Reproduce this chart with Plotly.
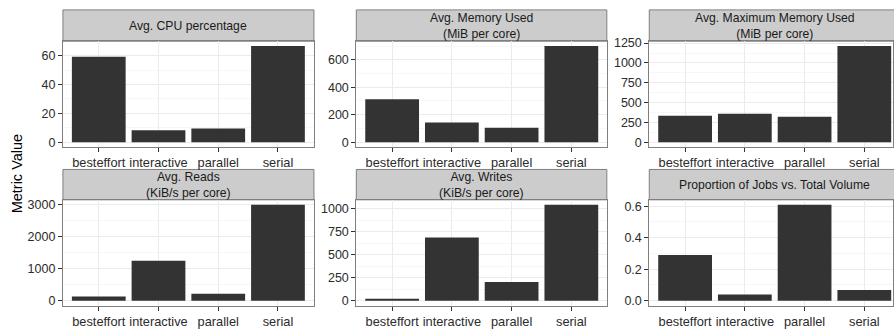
import plotly.graph_objects as go

categories = ["besteffort", "interactive", "parallel", "serial"]

cpu_pct = [59.3, 8.2, 9.5, 66.8]
mem_used = [312, 143, 105, 700]
max_mem_used = [334, 359, 322, 1213]
reads = [130, 1250, 220, 3010]
writes = [12, 685, 203, 1043]
job_prop = [0.290, 0.039, 0.610, 0.068]

titles = [
    "Avg. CPU percentage",
    "Avg. Memory Used\n(MiB per core)",
    "Avg. Maximum Memory Used\n(MiB per core)",
    "Avg. Reads\n(KiB/s per core)",
    "Avg. Writes\n(KiB/s per core)",
    "Proportion of Jobs vs. Total Volume",
]
series = [cpu_pct, mem_used, max_mem_used, reads, writes, job_prop]
y_dticks = [20, 200, 250, 1000, 250, 0.2]
y_formats = ["d", "d", "d", "d", "d", ".1f"]
y_title = "Metric Value"

W, H = 894, 333
FONT = "Liberation Sans, Arial, Helvetica, sans-serif"
BAR = "#333333"
BORDER = "#7f7f7f"
STRIP = "#cccccc"
GRID = "#ebebeb"
MINOR = "#f7f7f7"
TEXT = "#2b2b2b"

# pixel layout (left, right) per column; (top, bottom) per row
cols_px = [(63, 314.3), (356.7, 607.5), (650, 894)]
rows_px = [(37, 145), (199, 307)]
strip_px = [(5, 37), (168, 199)]
px_per_cat = 59.8

def fx(p):
    return p / W

def fy(p):
    return 1 - p / H

fig = go.Figure()
shapes = []
annotations = []

for i, (title, vals) in enumerate(zip(titles, series)):
    r, c = divmod(i, 3)
    n = i + 1
    xa = "x" if n == 1 else f"x{n}"
    ya = "y" if n == 1 else f"y{n}"
    fig.add_trace(go.Bar(
        x=categories, y=vals, xaxis=xa, yaxis=ya,
        marker=dict(color=BAR, line=dict(width=0)),
        width=0.9, showlegend=False, hoverinfo="x+y",
    ))
    l, rgt = cols_px[c]
    t, b = rows_px[r]
    xr = [-0.6, -0.6 + (rgt - l) / px_per_cat]
    vmax = max(vals)
    yr = [-0.05 * vmax, 1.05 * vmax]
    xkey = "xaxis" if n == 1 else f"xaxis{n}"
    ykey = "yaxis" if n == 1 else f"yaxis{n}"
    fig.layout[xkey] = dict(
        domain=[fx(l), fx(rgt)], anchor=ya, type="category",
        categoryorder="array", categoryarray=categories,
        range=xr, showgrid=True, gridcolor=GRID, gridwidth=1,
        showline=True, linecolor=BORDER, linewidth=1, mirror=True,
        ticks="outside", ticklen=4, tickcolor="#333333", tickwidth=1,
        tickfont=dict(family=FONT, size=12.8, color=TEXT),
        zeroline=False, fixedrange=True,
    )
    fig.layout[ykey] = dict(
        domain=[fy(b), fy(t)], anchor=xa, range=yr,
        dtick=y_dticks[i], tick0=0, tickformat=y_formats[i],
        showgrid=True, gridcolor=GRID, gridwidth=1,
        minor=dict(showgrid=True, gridcolor=MINOR, gridwidth=1,
                   dtick=y_dticks[i] / 2, tick0=0),
        showline=True, linecolor=BORDER, linewidth=1, mirror=True,
        ticks="outside", ticklen=4, tickcolor="#333333", tickwidth=1,
        tickfont=dict(family=FONT, size=12.5, color=TEXT),
        zeroline=False, fixedrange=True,
    )
    st, sb = strip_px[r]
    shapes.append(dict(
        type="rect", xref="paper", yref="paper",
        x0=fx(l), x1=fx(rgt) + (0.01 if c == 2 else 0), y0=fy(sb), y1=fy(st),
        fillcolor=STRIP, line=dict(color=BORDER, width=1), layer="below",
    ))
    annotations.append(dict(
        text=title.replace("\n", "<br>"), xref="paper", yref="paper",
        x=fx((l + (rgt if c < 2 else 901)) / 2), y=fy((st + sb) / 2 + 0.5),
        xanchor="center", yanchor="middle", showarrow=False,
        font=dict(family=FONT, size=12.2, color="#1a1a1a"),
    ))

annotations.append(dict(
    text=y_title, xref="paper", yref="paper",
    x=fx(17), y=fy(172), textangle=-90,
    xanchor="center", yanchor="middle", showarrow=False,
    font=dict(family=FONT, size=14.5, color="#000000"),
))

fig.update_layout(
    width=W, height=H,
    margin=dict(l=0, r=0, t=0, b=0),
    paper_bgcolor="white", plot_bgcolor="white",
    shapes=shapes, annotations=annotations,
    bargap=0.1,
)

fig.write_html("out.html", config={"displayModeBar": False})
